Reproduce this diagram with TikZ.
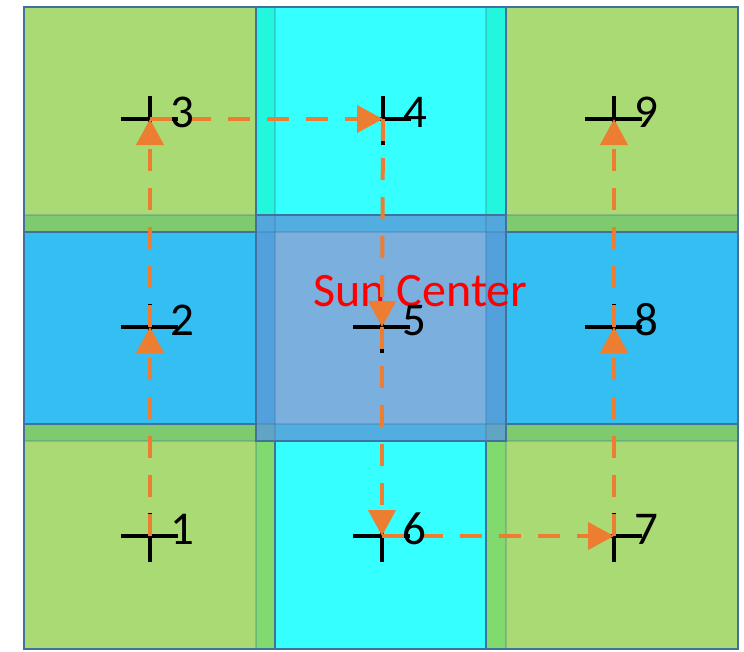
\documentclass[tikz,border=0pt]{standalone}
\usepackage{fontspec}
\setmainfont{Carlito}
\usetikzlibrary{arrows.meta}
\definecolor{gr}{HTML}{A9DA74}
\definecolor{cy}{HTML}{35FFFF}
\definecolor{tl}{HTML}{22F6DD}
\definecolor{bl}{HTML}{35BEF2}
\definecolor{dg}{HTML}{7ECA6E}
\definecolor{gc}{HTML}{80DA6E}
\definecolor{cc}{HTML}{7BAFDE}
\definecolor{cb}{HTML}{52A0DC}
\definecolor{cu}{HTML}{52AEE0}
\definecolor{kt}{HTML}{52A8DC}
\definecolor{kb}{HTML}{60A6C4}
\definecolor{bd}{HTML}{41719C}
\definecolor{og}{HTML}{ED7D31}
\begin{document}
\begin{tikzpicture}[x=1pt,y=-1pt,
  tilebd/.style={draw=bd,line width=1.6pt},
  faint/.style={draw=bd,line width=1.2pt,opacity=.3},
  cross/.style={draw=black,line width=3.5pt},
  flow/.style={draw=og,line width=4pt,dash pattern=on 22pt off 17pt,-{Triangle[width=27pt,length=26pt]}},
  lbl/.style={font=\fontsize{47}{47}\selectfont,inner sep=0pt,anchor=base west,xshift=20pt,yshift=-8pt},
  sun/.style={font=\fontsize{48}{48}\selectfont,text=red,inner sep=0pt,anchor=base}]
\useasboundingbox (0,0) rectangle (744,651);
% base tiles
\fill[gr] (24,7) rectangle (256,649);
\fill[gr] (506,7) rectangle (738,649);
\fill[cy] (256,7) rectangle (506,649);
\fill[bl] (24,232) rectangle (256,424);
\fill[bl] (506,232) rectangle (738,424);
\fill[dg] (24,215) rectangle (256,232);
\fill[dg] (24,424) rectangle (256,441);
\fill[dg] (506,215) rectangle (738,232);
\fill[dg] (506,424) rectangle (738,441);
\fill[tl] (256,7) rectangle (275,215);
\fill[tl] (486,7) rectangle (506,215);
\fill[gc] (256,441) rectangle (275,649);
\fill[gc] (486,441) rectangle (506,649);
% center tile
\fill[cu] (256,215) rectangle (506,441);
\fill[cb] (256,232) rectangle (506,424);
\fill[cc] (275,232) rectangle (486,424);
\fill[kt] (256,215) rectangle (275,232);
\fill[kt] (486,215) rectangle (506,232);
\fill[kb] (256,424) rectangle (275,441);
\fill[kb] (486,424) rectangle (506,441);
% faint borders
\draw[faint] (24,215) -- (256,215) (506,215) -- (738,215);
\draw[faint] (24,441) -- (256,441) (506,441) -- (738,441);
\draw[faint] (275,7) -- (275,441) (486,7) -- (486,441);
\draw[faint] (256,441) -- (256,649) (506,441) -- (506,649);
\draw[faint] (256,232) -- (506,232) (256,424) -- (506,424);
% strong borders
\draw[tilebd] (24,232) -- (256,232) (506,232) -- (738,232);
\draw[tilebd] (24,424) -- (256,424) (506,424) -- (738,424);
\draw[tilebd] (256,7) -- (256,215) (506,7) -- (506,215);
\draw[tilebd] (275,441) -- (275,649) (486,441) -- (486,649);
\draw[tilebd] (256,215) rectangle (506,441);
\draw[tilebd] (24,7) rectangle (738,649);
% markers
\foreach \i/\x/\y in {1/150/536,2/150/327,3/150/119,4/383/119,5/382/327,6/382/536,7/614/536,8/614/327,9/614/119}
  \coordinate (p\i) at (\x,\y);
\foreach \i in {1,...,9}
  \draw[cross] (p\i) ++(-29,0) -- ++(57,0) (p\i) ++(0,-23) -- ++(0,49);
\node[sun] (sun) at (420.5,306) {Sun Center};
% flow
\draw[flow] (p1) -- (p2);
\draw[flow] (p2) -- (p3);
\draw[flow] (p3) -- (p4);
\draw[flow] (p4) -- (p5);
\draw[flow] (p5) -- (p6);
\draw[flow] (p6) -- (p7);
\draw[flow] (p7) -- (p8);
\draw[flow] (p8) -- (p9);
% labels
\foreach \i in {1,...,9}
  \node[lbl] (l\i) at (p\i) {\i};
\end{tikzpicture}
\end{document}
